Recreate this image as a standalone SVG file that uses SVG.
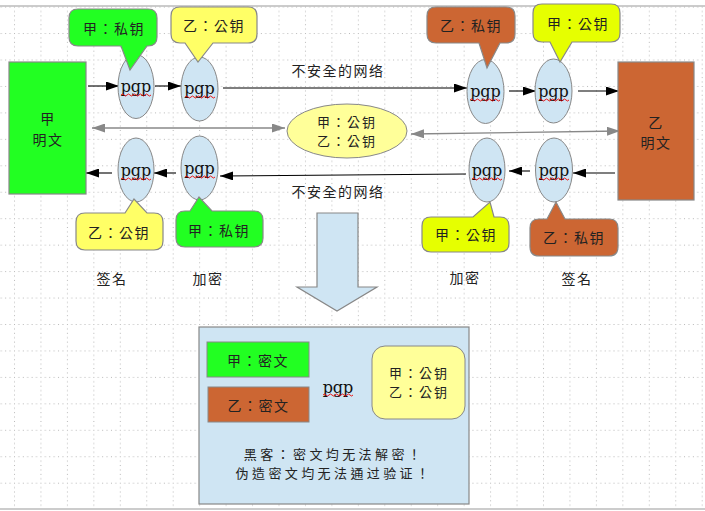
<svg xmlns="http://www.w3.org/2000/svg" width="705" height="511" viewBox="0 0 705 511">
<style>
text{font-family:"Noto Sans CJK TC","Noto Sans CJK SC","Liberation Sans",sans-serif;font-size:14px;fill:#222;text-anchor:middle;dominant-baseline:central;letter-spacing:1.5px}
.two{font-size:13px;letter-spacing:2px}
.pgp{font-family:"DejaVu Serif","Liberation Serif",serif;font-size:16px;letter-spacing:0;fill:#111}
.ell{fill:#cfe5f3;stroke:#888;stroke-width:1}
.bub{stroke:#888;stroke-width:1.2}
.g{fill:#22ff22}.o{fill:#cc6633}.y{fill:#ffff66}.yg{fill:#e6ff00}
.wave{fill:none;stroke:#e00;stroke-width:0.9}
.ln{stroke:#000;stroke-width:1.1;fill:none;marker-end:url(#ah)}
.gl{stroke:#888;stroke-width:1.3;fill:none;marker-end:url(#gh);marker-start:url(#gh)}
</style>
<defs>
<pattern id="grid" patternUnits="userSpaceOnUse" x="14" y="6.6" width="26.45" height="26.45">
<g fill="#b8b8b8">
<rect x="0" y="0" width="1" height="1"/><rect x="4.4" y="0" width="1" height="1"/><rect x="8.8" y="0" width="1" height="1"/><rect x="13.2" y="0" width="1" height="1"/><rect x="17.6" y="0" width="1" height="1"/><rect x="22" y="0" width="1" height="1"/>
<rect x="0" y="4.4" width="1" height="1"/><rect x="0" y="8.8" width="1" height="1"/><rect x="0" y="13.2" width="1" height="1"/><rect x="0" y="17.6" width="1" height="1"/><rect x="0" y="22" width="1" height="1"/>
</g>
</pattern>
<marker id="ah" markerUnits="userSpaceOnUse" markerWidth="14" markerHeight="9" refX="13" refY="4.5" orient="auto">
<path d="M0,0 L13,4.5 L0,9 Z" fill="#000"/>
</marker>
<marker id="gh" markerUnits="userSpaceOnUse" markerWidth="14" markerHeight="9" refX="13" refY="4.5" orient="auto-start-reverse">
<path d="M0,0 L13,4.5 L0,9 Z" fill="#888"/>
</marker>
<path id="wv" d="M0,0 q1.5,-2 3,0 t3,0 t3,0 t3,0 t3,0 t3,0 t3,0 t3,0 t3,0 t3,0"/>
</defs>
<rect width="705" height="511" fill="#fff"/>
<rect x="0" y="6" width="705" height="502" fill="url(#grid)"/>
<line x1="0" y1="6" x2="705" y2="6" stroke="#bbb" stroke-width="1.5"/>
<line x1="0" y1="509" x2="705" y2="509" stroke="#bbb" stroke-width="1.5"/>

<g id="connectors">
<line class="ln" x1="88" y1="86" x2="119" y2="86"/>
<line class="ln" x1="155" y1="86" x2="181" y2="86"/>
<line class="ln" x1="223" y1="88" x2="467" y2="88"/>
<line class="ln" x1="509" y1="91" x2="536" y2="91"/>
<line class="ln" x1="578" y1="91" x2="619" y2="91"/>
<line class="ln" x1="615" y1="173" x2="573" y2="173"/>
<line class="ln" x1="530" y1="171" x2="509" y2="171"/>
<line class="ln" x1="466" y1="174" x2="220" y2="176"/>
<line class="ln" x1="176" y1="173" x2="154" y2="173"/>
<line class="ln" x1="112" y1="173" x2="86" y2="173"/>
<line class="gl" x1="92" y1="128" x2="285" y2="128"/>
<line class="gl" x1="411" y1="134" x2="620" y2="131"/>
</g>

<g id="plain-a">
<rect x="9" y="62" width="77" height="132" class="g" stroke="#888" stroke-width="1.2"/>
<text x="48" y="118">甲</text>
<text x="48" y="139">明文</text>
</g>
<g id="plain-b">
<rect x="618" y="62" width="76" height="138" class="o" stroke="#888" stroke-width="1.2"/>
<text x="656" y="122">乙</text>
<text x="656" y="142">明文</text>
</g>

<g id="pgp1"><ellipse class="ell" cx="136" cy="86.5" rx="18" ry="32"/><text class="pgp" x="136" y="86">pgp</text><use href="#wv" x="121" y="95" class="wave"/></g>
<g id="pgp2"><ellipse class="ell" cx="199.5" cy="89" rx="18.5" ry="32"/><text class="pgp" x="199.5" y="88">pgp</text><use href="#wv" x="185" y="97" class="wave"/></g>
<g id="pgp3"><ellipse class="ell" cx="136" cy="170" rx="18" ry="32"/><text class="pgp" x="136" y="170">pgp</text><use href="#wv" x="121" y="179" class="wave"/></g>
<g id="pgp4"><ellipse class="ell" cx="199.5" cy="168" rx="18.5" ry="32"/><text class="pgp" x="199.5" y="168">pgp</text><use href="#wv" x="185" y="177" class="wave"/></g>
<g id="pgp5"><ellipse class="ell" cx="485.5" cy="91.5" rx="18.5" ry="32"/><text class="pgp" x="485.5" y="91">pgp</text><use href="#wv" x="470" y="100" class="wave"/></g>
<g id="pgp6"><ellipse class="ell" cx="553.5" cy="91" rx="18.5" ry="32"/><text class="pgp" x="553.5" y="91">pgp</text><use href="#wv" x="539" y="100" class="wave"/></g>
<g id="pgp7"><ellipse class="ell" cx="487" cy="170" rx="18" ry="32"/><text class="pgp" x="487" y="170">pgp</text><use href="#wv" x="472" y="179" class="wave"/></g>
<g id="pgp8"><ellipse class="ell" cx="554" cy="170" rx="18.5" ry="32"/><text class="pgp" x="554" y="170">pgp</text><use href="#wv" x="539" y="179" class="wave"/></g>

<g id="keys-mid">
<ellipse cx="347" cy="131" rx="60" ry="27" fill="#ffff99" stroke="#888" stroke-width="1"/>
<text class="two" x="347" y="121.5">甲：公钥</text>
<text class="two" x="347" y="140">乙：公钥</text>
</g>

<g id="bubble1"><path class="bub g" d="M78,9 H148 Q157,9 157,18 V37 Q157,46 148,46 H147 L130,70 L121,46 H78 Q69,46 69,37 V18 Q69,9 78,9 Z"/><text x="114" y="28">甲：私钥</text></g>
<g id="bubble2"><path class="bub y" d="M180,7 H248 Q257,7 257,16 V34 Q257,43 248,43 H213 L198,62 L185,43 H180 Q171,43 171,34 V16 Q171,7 180,7 Z"/><text x="214" y="25">乙：公钥</text></g>
<g id="bubble3"><path class="bub o" d="M436,7 H506 Q515,7 515,16 V34 Q515,43 506,43 H500 L487,68 L479,43 H436 Q427,43 427,34 V16 Q427,7 436,7 Z"/><text x="471" y="25">乙：私钥</text></g>
<g id="bubble4"><path class="bub yg" d="M542,4 H611 Q620,4 620,13 V33 Q620,42 611,42 H572 L560,62 L550,42 H542 Q533,42 533,33 V13 Q533,4 542,4 Z"/><text x="578" y="23">甲：公钥</text></g>
<g id="bubble5"><path class="bub y" d="M85,213 H125 L134,199 L147,213 H154 Q163,213 163,222 V241 Q163,250 154,250 H85 Q76,250 76,241 V222 Q76,213 85,213 Z"/><text x="119" y="232">乙：公钥</text></g>
<g id="bubble6"><path class="bub g" d="M185,211 H190 L199,197 L212,211 H254 Q263,211 263,220 V238 Q263,247 254,247 H185 Q176,247 176,238 V220 Q176,211 185,211 Z"/><text x="219" y="230">甲：私钥</text></g>
<g id="bubble7"><path class="bub yg" d="M431,217 H473 L490,202 L494,217 H500 Q509,217 509,226 V243 Q509,252 500,252 H431 Q422,252 422,243 V226 Q422,217 431,217 Z"/><text x="466" y="234">甲：公钥</text></g>
<g id="bubble8"><path class="bub o" d="M539,219 H547 L556,202 L565,219 H609 Q618,219 618,228 V247 Q618,256 609,256 H539 Q530,256 530,247 V228 Q530,219 539,219 Z"/><text x="574" y="237">乙：私钥</text></g>

<g id="labels">
<text x="338" y="70">不安全的网络</text>
<text x="338" y="191">不安全的网络</text>
<text x="112" y="278">签名</text>
<text x="208" y="278">加密</text>
<text x="465" y="277">加密</text>
<text x="577" y="278">签名</text>
</g>

<g id="down-arrow">
<path d="M317,213 H358 V287 H377 L337,311 L297,287 H317 Z" fill="#cfe5f3" stroke="#888" stroke-width="1.2"/>
</g>

<g id="hacker-box">
<rect x="199" y="327" width="270" height="177" fill="#cfe5f3" stroke="#888" stroke-width="1.2"/>
<rect x="207" y="342" width="102" height="35" class="g" stroke="#888" stroke-width="1"/>
<text x="258" y="359.5">甲：密文</text>
<rect x="208" y="387" width="101" height="35" class="o" stroke="#888" stroke-width="1"/>
<text x="258.5" y="404.5">乙：密文</text>
<text class="pgp" x="338" y="387">pgp</text>
<use href="#wv" x="323" y="395" class="wave"/>
<rect x="372" y="346" width="93" height="73" rx="13" fill="#ffff99" stroke="#888" stroke-width="1"/>
<text class="two" x="419" y="372.5">甲：公钥</text>
<text class="two" x="419" y="391">乙：公钥</text>
<text class="two" x="334" y="453" style="letter-spacing:3.4px">黑客：密文均无法解密！</text>
<text class="two" x="334" y="472" style="letter-spacing:3.4px">伪造密文均无法通过验证！</text>
</g>
</svg>
